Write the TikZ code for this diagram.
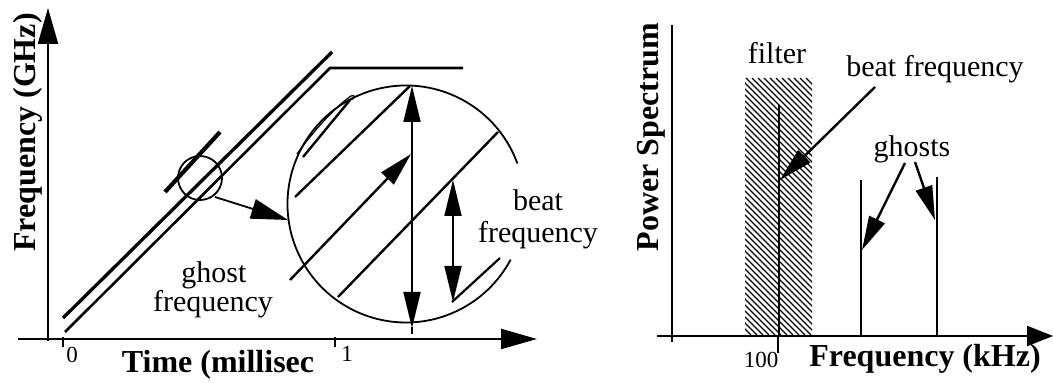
\documentclass[tikz,border=0pt]{standalone}
\usepackage{fontspec}
\setmainfont{Liberation Serif}
\usetikzlibrary{arrows.meta}
\begin{document}
\begin{tikzpicture}[x=1pt,y=1pt,
  big/.style={font=\fontsize{32}{34}\selectfont\bfseries, inner sep=0pt, anchor=base},
  lab/.style={font=\fontsize{30}{29}\selectfont, inner sep=0pt, anchor=base},
  ticklab/.style={font=\fontsize{23}{24}\selectfont, inner sep=0pt},
  ax/.style={line width=2.2pt},
  ramp/.style={line width=3.3pt},
  thin/.style={line width=1.8pt},
  hatchline/.style={line width=1.2pt},
  tip/.style={-{Triangle[length=34pt,width=17pt]}},
  dtip/.style={{Triangle[length=36pt,width=17pt]}-{Triangle[length=36pt,width=17pt]}},
  axtip/.style={-{Triangle[length=36pt,width=20pt]}}]
\useasboundingbox (0,0) rectangle (1053,383);

% ---------- left panel ----------
\coordinate (yb) at (48,42);
\coordinate (yt) at (48,375);
\coordinate (xl) at (18,44);
\coordinate (xr) at (537,44);
\draw[ax,axtip] (yb) -- (yt);
\draw[ax,axtip] (xl) -- (xr);
\draw[line width=1.6pt] (63,46) -- (63,36);
\draw[line width=1.6pt] (335,46) -- (335,36);
\node[ticklab] (t0) at (72,28) {0};
\node[ticklab] (t1) at (347,29) {1};
\node[big] (tl) at (218,10) {Time (millisec};
\node[big, rotate=90] (fl) at (35,250.5) {Frequency (GHz)};

% ramps
\coordinate (a0) at (63,65);
\coordinate (a1) at (332,331);
\coordinate (b0) at (65,51);
\coordinate (b1) at (330,315);
\coordinate (b2) at (463,315);
\draw[ramp] (a0) -- (a1);
\draw[line width=2.6pt] (b0) -- (b1) -- (b2);
\draw[line width=4.2pt] (165,191) -- (220,251);

% small circle and zoom arrow
\coordinate (sc) at (200,205);
\draw[thin] (sc) circle (22);
\coordinate (z0) at (215,186);
\coordinate (z1) at (288,163);
\draw[line width=1.8pt, -{Triangle[length=37pt,width=20pt]}] (z0) -- (z1);

% big circle
\coordinate (bc) at (406,179);
\draw[thin] (bc) ++(20:118.5) arc[start angle=20, end angle=332, radius=118.5];

% hairpin upper left
\draw[line width=2.4pt] (303,226) -- (350,283);
\draw[line width=1.3pt] (297,229) .. controls (318,258) and (338,278) .. (351,287)
   .. controls (356,289) and (355,284) .. (350,283);

% diagonal lines inside the circle
\coordinate (l1a) at (295,186);
\coordinate (l1b) at (410,297);
\draw[line width=2.4pt] (l1a) -- (l1b);
\coordinate (l2a) at (290,103);
\coordinate (l2b) at (411,229);
\draw[line width=2.4pt, tip] (l2a) -- (l2b);
\coordinate (l3a) at (338,86);
\coordinate (l3b) at (498,251);
\draw[line width=2.4pt] (l3a) -- (l3b);
% hairpin lower right
\draw[line width=2.2pt] (452,81) -- (500,125);

% vertical double arrows
\coordinate (v1t) at (412,297);
\coordinate (v1b) at (412,55);
\draw[line width=1.8pt, dtip] (v1b) -- (v1t);
\draw[line width=1.8pt] (412,56) -- (412,49);
\coordinate (v2t) at (453,203);
\coordinate (v2b) at (453,81);
\draw[line width=1.8pt, dtip] (v2b) -- (v2t);

\node[lab] (beat1) at (538,172) {beat};
\node[lab] (beat2) at (538,140) {frequency};
\node[lab] (gh1) at (214,100) {ghost};
\node[lab] (gh2) at (213,71) {frequency};

% ---------- right panel ----------
\coordinate (ryb) at (672,41);
\coordinate (ryt) at (672,358);
\draw[ax] (ryb) -- (ryt);
\coordinate (rxl) at (657,47);
\coordinate (rxr) at (1053,47);
\draw[ax,-{Triangle[length=26pt,width=20pt]}] (rxl) -- (rxr);
\draw[line width=1.8pt] (778,47) -- (778,30);
\node[ticklab] (h100) at (761,23) {100};
\node[big] (fk) at (925,16) {Frequency (kHz)};
\node[big, rotate=90] (ps) at (658,246) {Power Spectrum};

% filter (hatched band)
\begin{scope}
  \clip (745,48) rectangle (812,305);
  \foreach \c in {488,494,...,818} {
    \draw[hatchline] (\c,305) -- ++(257,-257);
  }
\end{scope}
\node[lab] (filt) at (777,319) {filter};
\coordinate (bt) at (779,278);
\coordinate (bb) at (779,47);
\draw[line width=2.4pt] (bt) -- (bb);
\node[lab] (bf) at (935,306) {beat frequency};
\coordinate (bfa) at (875,296);
\coordinate (bfb) at (780,203);
\draw[line width=2.4pt, tip] (bfa) -- (bfb);

% ghosts
\node[lab] (gs) at (912,226) {ghosts};
\coordinate (g1t) at (861,203);
\coordinate (g1b) at (861,47);
\draw[line width=2.4pt] (g1t) -- (g1b);
\coordinate (g2t) at (937,206);
\coordinate (g2b) at (937,47);
\draw[line width=2.4pt] (g2t) -- (g2b);
\coordinate (ga1) at (905,220);
\coordinate (ga1e) at (862,133);
\draw[line width=2.4pt, tip] (ga1) -- (ga1e);
\coordinate (ga2) at (915,221);
\coordinate (ga2e) at (935,163);
\draw[line width=2.4pt, tip] (ga2) -- (ga2e);
\end{tikzpicture}
\end{document}
